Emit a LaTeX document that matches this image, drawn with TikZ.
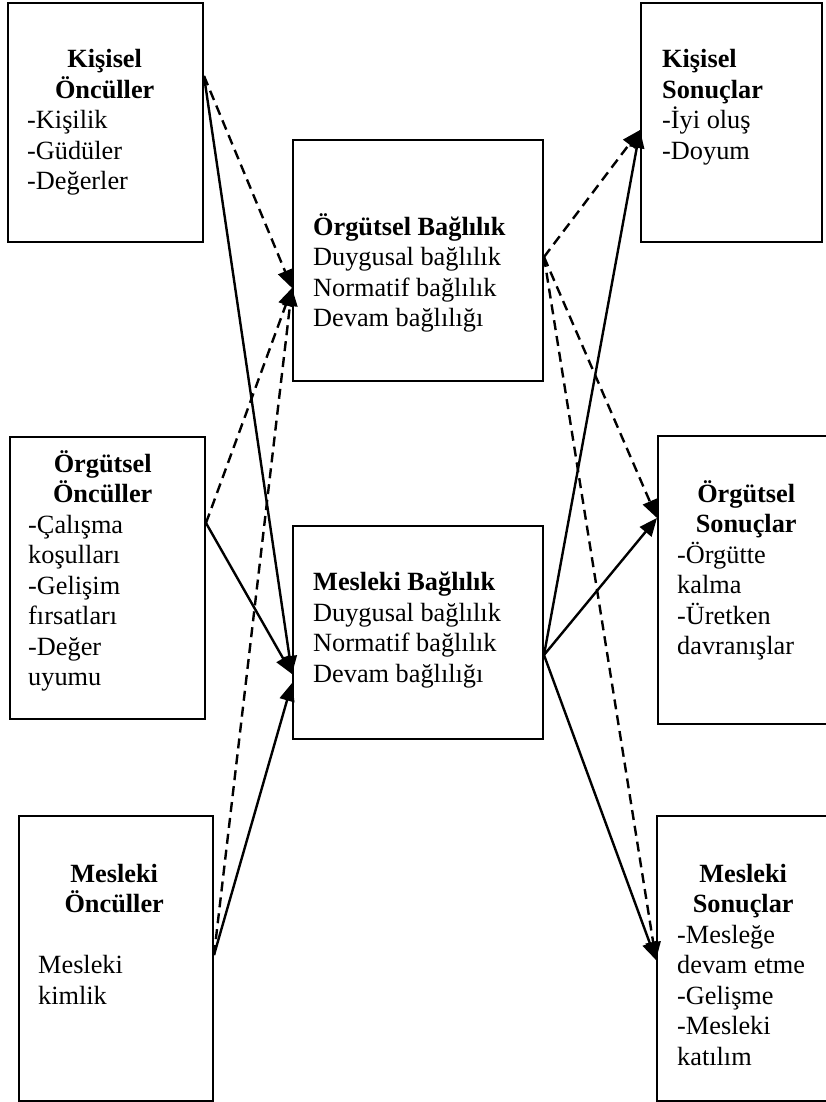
\documentclass[tikz,border=0pt]{standalone}
\usepackage{fontspec}
\setmainfont{Liberation Serif}
\usetikzlibrary{arrows.meta,calc}
\tikzset{
  box/.style={draw, line width=2pt, rectangle, inner sep=0pt, anchor=north west},
  txt/.style={anchor=base west, inner sep=0pt, font=\fontsize{26.3}{30.5}\selectfont},
  link/.style={line width=2.4pt, -{Triangle[length=18pt,width=15pt]}},
  dashlink/.style={link, dash pattern=on 10pt off 6pt},
}
\begin{document}
\begin{tikzpicture}[x=1pt, y=-1pt]
\clip (0,0) rectangle (826,1102);
\fill[white] (0,0) rectangle (826,1102);

% boxes
\node[box, minimum width=195pt, minimum height=239pt] (kpo) at (7,2) {};
\node[box, minimum width=195pt, minimum height=282pt] (oo)  at (9,436) {};
\node[box, minimum width=194pt, minimum height=285pt] (mo)  at (18,815) {};
\node[box, minimum width=250pt, minimum height=241pt] (ob)  at (292,139) {};
\node[box, minimum width=250pt, minimum height=213pt] (mb)  at (292,525) {};
\node[box, minimum width=181pt, minimum height=239pt] (ks)  at (640,2) {};
\node[box, minimum width=175pt, minimum height=288pt] (os)  at (657,435) {};
\node[box, minimum width=176pt, minimum height=285pt] (ms)  at (656,815) {};

% texts
\node[txt] (kpo-t) at (27,68) {\parbox[t]{155pt}{\centering\bfseries Kişisel\\Öncüller\par
  \raggedright\mdseries -Kişilik\\-Güdüler\\-Değerler}};
\node[txt] (oo-t) at (28,472) {\parbox[t]{149pt}{\centering\bfseries Örgütsel\\Öncüller\par
  \raggedright\mdseries -Çalışma\\koşulları\\-Gelişim\\fırsatları\\-Değer\\uyumu}};
\node[txt] (mo-t) at (38,882) {\parbox[t]{152pt}{\centering\bfseries Mesleki\\Öncüller\par
  \vspace{30.5pt}\raggedright\mdseries Mesleki\\kimlik}};
\node[txt] (ob-t) at (313,235) {\parbox[t]{225pt}{\raggedright\textbf{Örgütsel Bağlılık}\\Duygusal bağlılık\\Normatif bağlılık\\Devam bağlılığı}};
\node[txt] (mb-t) at (313,590.5) {\parbox[t]{225pt}{\raggedright\textbf{Mesleki Bağlılık}\\Duygusal bağlılık\\Normatif bağlılık\\Devam bağlılığı}};
\node[txt] (ks-t) at (662,68) {\parbox[t]{155pt}{\raggedright\textbf{Kişisel}\\\textbf{Sonuçlar}\\-İyi oluş\\-Doyum}};
\node[txt] (os-t) at (677,502) {\parbox[t]{138pt}{\centering\bfseries Örgütsel\\Sonuçlar\par
  \raggedright\mdseries -Örgütte\\kalma\\-Üretken\\davranışlar}};
\node[txt] (ms-t) at (677,882) {\parbox[t]{132pt}{\centering\bfseries Mesleki\\Sonuçlar\par
  \raggedright\mdseries -Mesleğe\\devam etme\\-Gelişme\\-Mesleki\\katılım}};

% connection points on the box borders
\coordinate (kpo-out) at ($(kpo.north east)+(0,74)$);
\coordinate (oo-out)  at ($(oo.north east)+(0,87)$);
\coordinate (mo-out)  at ($(mo.north east)+(0,140)$);
\coordinate (ob-in)   at ($(ob.north west)+(0,149)$);
\coordinate (mb-in1)  at ($(mb.north west)+(0,149)$);
\coordinate (mb-in2)  at ($(mb.north west)+(0,158)$);
\coordinate (ob-out)  at ($(ob.north east)+(0,118)$);
\coordinate (mb-out)  at ($(mb.north east)+(0,130)$);
\coordinate (ks-in)   at ($(ks.north west)+(0,128)$);
\coordinate (os-in)   at ($(os.north west)+(0,83)$);
\coordinate (ms-in)   at ($(ms.north west)+(0,145)$);

% antecedents -> commitments
\draw[link]     (kpo-out) -- (mb-in1);
\draw[dashlink] (kpo-out) -- (ob-in);
\draw[dashlink] (oo-out)  -- (ob-in);
\draw[link]     (oo-out)  -- (mb-in1);
\draw[dashlink] (mo-out)  -- (ob-in);
\draw[link]     (mo-out)  -- (mb-in2);

% commitments -> outcomes
\draw[dashlink] (ob-out) -- (ks-in);
\draw[link]     (mb-out) -- (ks-in);
\draw[dashlink] (ob-out) -- (os-in);
\draw[link]     (mb-out) -- (os-in);
\draw[dashlink] (ob-out) -- (ms-in);
\draw[link]     (mb-out) -- (ms-in);
\end{tikzpicture}
\end{document}
